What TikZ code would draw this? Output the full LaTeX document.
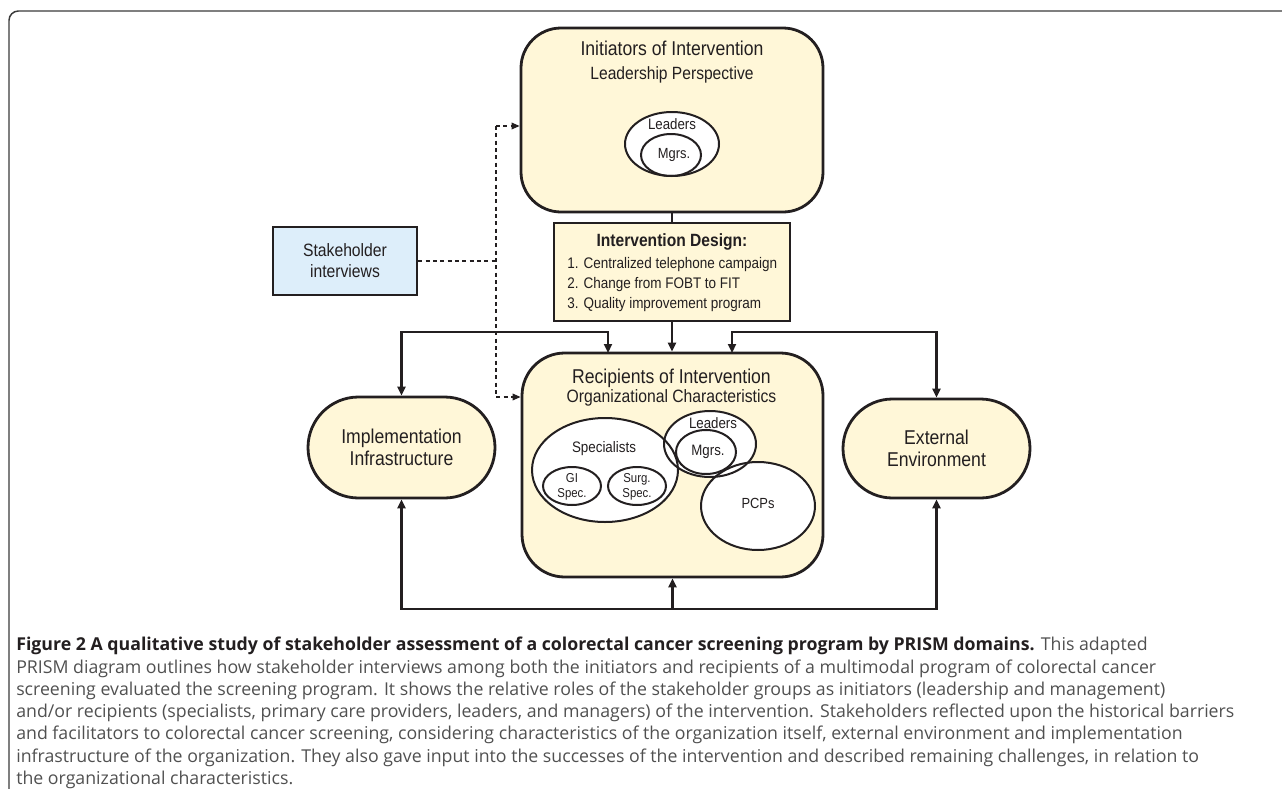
\documentclass[tikz,border=0pt]{standalone}
\usepackage{fontspec}
\setmainfont{Liberation Sans}[FakeStretch=0.88]
\newfontfamily\capfont{Open Sans}
\usetikzlibrary{arrows.meta,shapes.geometric,shapes.misc}
\definecolor{ink}{HTML}{231F20}
\definecolor{boxyellow}{HTML}{FFF7D8}
\definecolor{boxblue}{HTML}{DDEEFA}
\definecolor{capgray}{HTML}{505050}
\definecolor{framegray}{HTML}{3A3A3A}
\begin{document}
\begin{tikzpicture}[x=0.75pt,y=-0.75pt,
  box/.style={draw=ink,line width=2.1pt,fill=boxyellow,inner sep=0pt},
  stadium/.style={rounded rectangle,draw=ink,line width=2.1pt,fill=boxyellow,inner sep=0pt,align=center,font=\fontsize{15}{16.5}\selectfont,text=ink},
  oval/.style={ellipse,draw=ink,line width=1.5pt,inner sep=0pt},
  lbl/.style={inner sep=0pt,text=ink},
  conn/.style={draw=ink,line width=1.6pt},
  arr/.style={conn,-{Triangle[length=6.75pt,width=6pt]}},
  dblarr/.style={conn,{Triangle[length=6.75pt,width=6pt]}-{Triangle[length=6.75pt,width=6pt]}},
  dashconn/.style={draw=ink,line width=1pt,dash pattern=on 3pt off 2.5pt},
  dasharr/.style={dashconn,-{Triangle[length=6pt,width=5pt]}}
]
\useasboundingbox (0,0) rectangle (1282,789);
% outer frame
\draw[framegray,line width=1.1pt,rounded corners=7pt] (1290,11) -- (9,11) -- (9,800);

% boxes
\node[box,minimum width=226.5pt,minimum height=138pt,rounded corners=30pt] (init) at (672,120) {};
\node[lbl,anchor=base,font=\fontsize{15}{18}\selectfont] (initT) at (672,55) {Initiators of Intervention};
\node[lbl,anchor=base,font=\fontsize{13.3}{16}\selectfont] (initS) at (672,79) {Leadership Perspective};

\node[box,minimum width=177pt,minimum height=73.5pt] (design) at (672,272) {};
\node[lbl,anchor=base,font=\bfseries\fontsize{13.3}{16}\selectfont] (designT) at (672,246) {Intervention Design:};
\node[lbl,anchor=base west,font=\fontsize{11.5}{14}\selectfont] (d1) at (567,268) {1. Centralized telephone campaign};
\node[lbl,anchor=base west,font=\fontsize{11.5}{14}\selectfont] (d2) at (567,288) {2. Change from FOBT to FIT};
\node[lbl,anchor=base west,font=\fontsize{11.5}{14}\selectfont] (d3) at (567,308) {3. Quality improvement program};

\node[draw=ink,line width=2.1pt,fill=boxblue,minimum width=108pt,minimum height=51pt,inner sep=0pt,align=center,text=ink,font=\fontsize{13.4}{15.75}\selectfont] (stake) at (345,261) {Stakeholder\\interviews};

\node[box,minimum width=225.75pt,minimum height=168pt,rounded corners=32pt] (rec) at (672.5,465) {};
\node[lbl,anchor=base,font=\fontsize{15}{18}\selectfont] (recT) at (671.5,383) {Recipients of Intervention};
\node[lbl,anchor=base,font=\fontsize{13.4}{16}\selectfont] (recS) at (671.5,402) {Organizational Characteristics};

\node[stadium,minimum width=140.25pt,minimum height=75.75pt] (impl) at (401.5,447.5) {Implementation\\Infrastructure};
\node[stadium,minimum width=140.25pt,minimum height=74.25pt] (ext) at (936.5,448.5) {External\\Environment};

% ellipse fills
\fill[white] (672,144) ellipse [x radius=35.25pt,y radius=24pt];
\fill[white] (605,470) ellipse [x radius=54.75pt,y radius=39pt];
\fill[white] (710,444) ellipse [x radius=34.5pt,y radius=24.75pt];
\fill[white] (758,506) ellipse [x radius=42.75pt,y radius=33pt];

% initiators ellipses
\node[oval,minimum width=70.5pt,minimum height=48pt] (iLead) at (672,144) {};
\node[oval,minimum width=45pt,minimum height=31.5pt] (iMgr) at (671,155) {};
\node[lbl,anchor=base,font=\fontsize{11.3}{13}\selectfont] (iLeadT) at (672,129) {Leaders};
\node[lbl,font=\fontsize{11}{13}\selectfont] (iMgrT) at (674,155) {Mgrs.};

% recipients ellipses
\node[oval,minimum width=109.5pt,minimum height=78pt] (spec) at (605,470) {};
\node[oval,minimum width=43.5pt,minimum height=28.5pt] (gi) at (572,486) {};
\node[oval,minimum width=43.5pt,minimum height=28.5pt] (surg) at (637,486) {};
\node[oval,minimum width=69pt,minimum height=49.5pt] (rLead) at (710,444) {};
\node[oval,minimum width=45pt,minimum height=33pt] (rMgr) at (706,452) {};
\node[oval,minimum width=85.5pt,minimum height=66pt] (pcp) at (758,506) {};
\node[lbl,anchor=base,font=\fontsize{11.4}{13}\selectfont] (specT) at (604,452) {Specialists};
\node[lbl,align=center,font=\fontsize{9.7}{11}\selectfont] (giT) at (572,487) {GI\\Spec.};
\node[lbl,align=center,font=\fontsize{9.7}{11}\selectfont] (surgT) at (637,487) {Surg.\\Spec.};
\node[lbl,anchor=base,font=\fontsize{11.3}{13}\selectfont] (rLeadT) at (713,428) {Leaders};
\node[lbl,font=\fontsize{11.3}{13}\selectfont] (rMgrT) at (708,452) {Mgrs.};
\node[lbl,font=\fontsize{11}{13}\selectfont] (pcpT) at (758,503) {PCPs};

% solid connectors
\coordinate (busT) at (0,332);
\coordinate (busB) at (0,609);
\coordinate (recInL) at (608,353);
\coordinate (recInR) at (732,353);
\draw[conn] (init.south) -- (design.north);
\draw[arr] (design.south) -- (design.south |- rec.north);
\draw[dblarr] (impl.north) -- (impl.north |- busT) -- (recInL |- busT) -- (recInL);
\draw[dblarr] (ext.north) -- (ext.north |- busT) -- (recInR |- busT) -- (recInR);
\draw[dblarr] (impl.south) -- (impl.south |- busB) -- (ext.south |- busB) -- (ext.south);
\draw[arr] (rec.south |- busB) -- (rec.south);

% dashed connectors
\coordinate (dTop) at (496,126);
\coordinate (dBot) at (496,397);
\draw[dashconn] (stake.east) -- (stake.east -| dTop);
\draw[dasharr] (dTop) -- (init.west |- dTop);
\draw[dasharr] (dTop) -- (dBot) -- (rec.west |- dBot);

% caption
\node[anchor=north west,align=left,inner sep=0pt,text=capgray,font=\capfont\fontsize{13.3}{16.7}\selectfont] (cap) at (16,637) {%
{\color{ink}\bfseries Figure 2 A qualitative study of stakeholder assessment of a colorectal cancer screening program by PRISM domains.} This adapted\\
PRISM diagram outlines how stakeholder interviews among both the initiators and recipients of a multimodal program of colorectal cancer\\
screening evaluated the screening program. It shows the relative roles of the stakeholder groups as initiators (leadership and management)\\
and/or recipients (specialists, primary care providers, leaders, and managers) of the intervention. Stakeholders reflected upon the historical barriers\\
and facilitators to colorectal cancer screening, considering characteristics of the organization itself, external environment and implementation\\
infrastructure of the organization. They also gave input into the successes of the intervention and described remaining challenges, in relation to\\
the organizational characteristics.};
\end{tikzpicture}
\end{document}
